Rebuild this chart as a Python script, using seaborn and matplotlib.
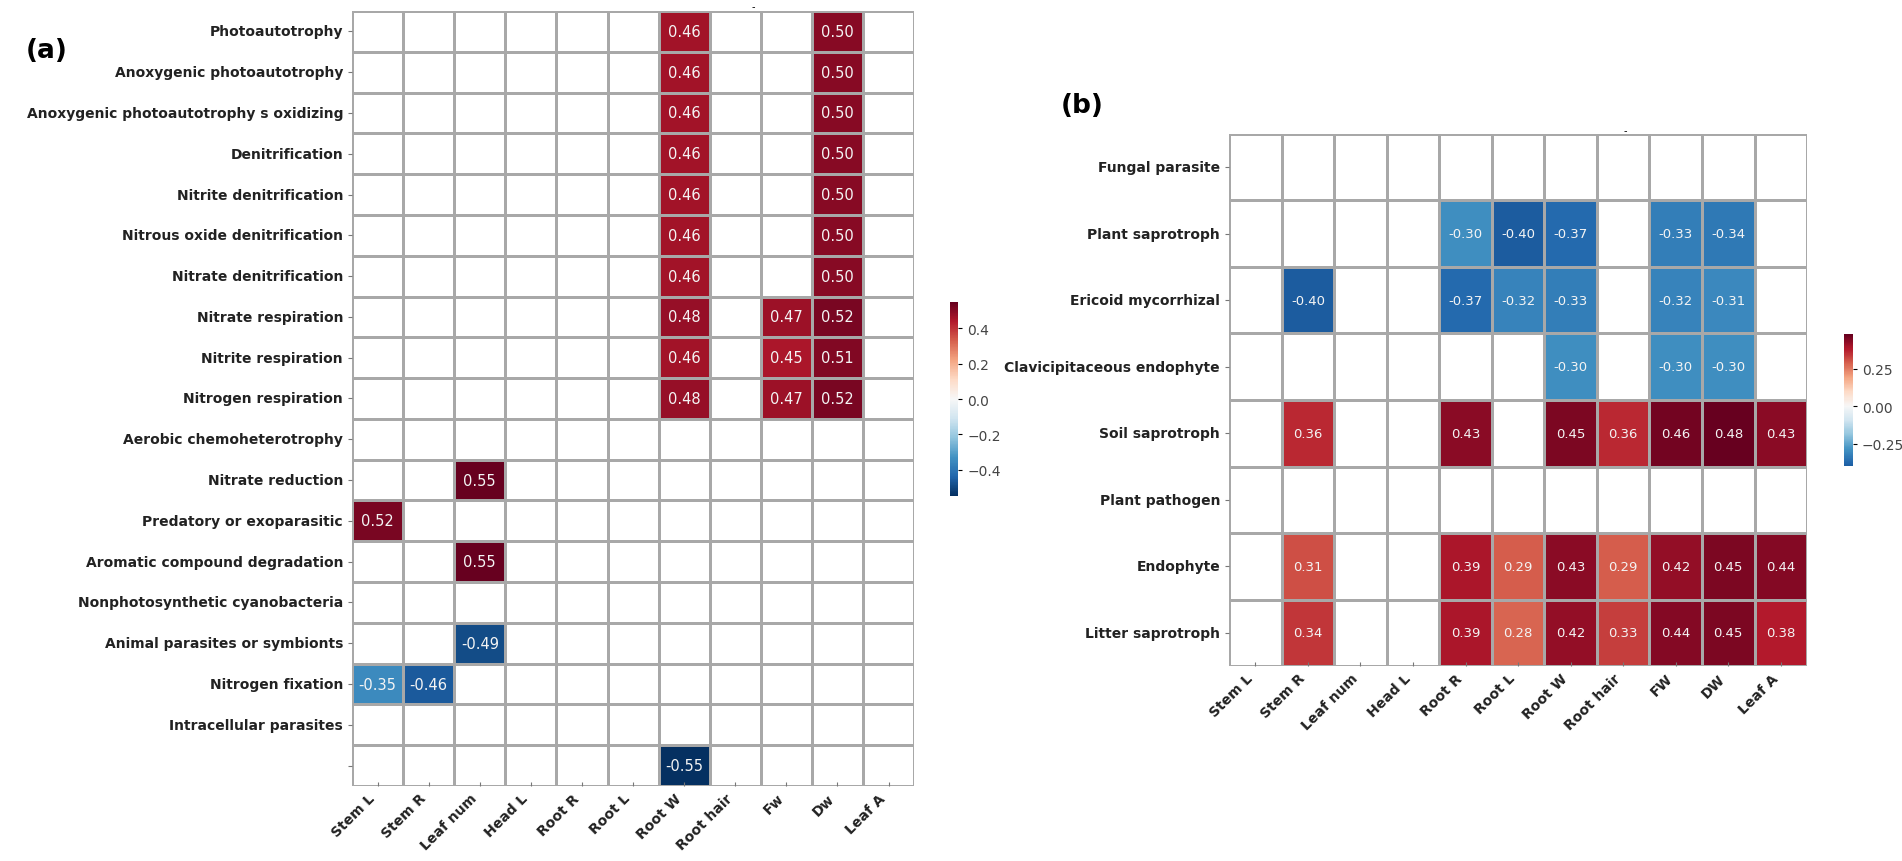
import numpy as np
import pandas as pd
import matplotlib
matplotlib.use('Agg')
import matplotlib.pyplot as plt
import seaborn as sns

nan = np.nan

# panel (a): FAPROTAX functions vs plant traits
traits_a = ['Stem L', 'Stem R', 'Leaf num', 'Head L', 'Root R', 'Root L',
            'Root W', 'Root hair', 'Fw', 'Dw', 'Leaf A']
functions_a = ['Photoautotrophy', 'Anoxygenic photoautotrophy',
               'Anoxygenic photoautotrophy s oxidizing', 'Denitrification',
               'Nitrite denitrification', 'Nitrous oxide denitrification',
               'Nitrate denitrification', 'Nitrate respiration',
               'Nitrite respiration', 'Nitrogen respiration',
               'Aerobic chemoheterotrophy', 'Nitrate reduction',
               'Predatory or exoparasitic', 'Aromatic compound degradation',
               'Nonphotosynthetic cyanobacteria', 'Animal parasites or symbionts',
               'Nitrogen fixation', 'Intracellular parasites', '']
corr_a = [
    [nan, nan, nan, nan, nan, nan, 0.46, nan, nan, 0.50, nan],
    [nan, nan, nan, nan, nan, nan, 0.46, nan, nan, 0.50, nan],
    [nan, nan, nan, nan, nan, nan, 0.46, nan, nan, 0.50, nan],
    [nan, nan, nan, nan, nan, nan, 0.46, nan, nan, 0.50, nan],
    [nan, nan, nan, nan, nan, nan, 0.46, nan, nan, 0.50, nan],
    [nan, nan, nan, nan, nan, nan, 0.46, nan, nan, 0.50, nan],
    [nan, nan, nan, nan, nan, nan, 0.46, nan, nan, 0.50, nan],
    [nan, nan, nan, nan, nan, nan, 0.48, nan, 0.47, 0.52, nan],
    [nan, nan, nan, nan, nan, nan, 0.46, nan, 0.45, 0.51, nan],
    [nan, nan, nan, nan, nan, nan, 0.48, nan, 0.47, 0.52, nan],
    [nan, nan, nan, nan, nan, nan, nan, nan, nan, nan, nan],
    [nan, nan, 0.55, nan, nan, nan, nan, nan, nan, nan, nan],
    [0.52, nan, nan, nan, nan, nan, nan, nan, nan, nan, nan],
    [nan, nan, 0.55, nan, nan, nan, nan, nan, nan, nan, nan],
    [nan, nan, nan, nan, nan, nan, nan, nan, nan, nan, nan],
    [nan, nan, -0.49, nan, nan, nan, nan, nan, nan, nan, nan],
    [-0.35, -0.46, nan, nan, nan, nan, nan, nan, nan, nan, nan],
    [nan, nan, nan, nan, nan, nan, nan, nan, nan, nan, nan],
    [nan, nan, nan, nan, nan, nan, -0.55, nan, nan, nan, nan],
]

# panel (b): FUNGuild guilds vs plant traits
traits_b = ['Stem L', 'Stem R', 'Leaf num', 'Head L', 'Root R', 'Root L',
            'Root W', 'Root hair', 'FW', 'DW', 'Leaf A']
guilds_b = ['Fungal parasite', 'Plant saprotroph', 'Ericoid mycorrhizal',
            'Clavicipitaceous endophyte', 'Soil saprotroph', 'Plant pathogen',
            'Endophyte', 'Litter saprotroph']
corr_b = [
    [nan, nan, nan, nan, nan, nan, nan, nan, nan, nan, nan],
    [nan, nan, nan, nan, -0.30, -0.40, -0.37, nan, -0.33, -0.34, nan],
    [nan, -0.40, nan, nan, -0.37, -0.32, -0.33, nan, -0.32, -0.31, nan],
    [nan, nan, nan, nan, nan, nan, -0.30, nan, -0.30, -0.30, nan],
    [nan, 0.36, nan, nan, 0.43, nan, 0.45, 0.36, 0.46, 0.48, 0.43],
    [nan, nan, nan, nan, nan, nan, nan, nan, nan, nan, nan],
    [nan, 0.31, nan, nan, 0.39, 0.29, 0.43, 0.29, 0.42, 0.45, 0.44],
    [nan, 0.34, nan, nan, 0.39, 0.28, 0.42, 0.33, 0.44, 0.45, 0.38],
]

df_a = pd.DataFrame(corr_a, index=functions_a, columns=traits_a)
df_b = pd.DataFrame(corr_b, index=guilds_b, columns=traits_b)

fig = plt.figure(figsize=(19.02, 8.62), dpi=100)
ax_a = fig.add_axes([0.1851, 0.0870, 0.2955, 0.8991])
cax_a = fig.add_axes([0.4995, 0.4234, 0.0042, 0.2251])
ax_b = fig.add_axes([0.6462, 0.2262, 0.3039, 0.6172])
cax_b = fig.add_axes([0.9695, 0.4582, 0.0047, 0.1531])


def draw(df, ax, cax, ticks, annot_size):
    sns.heatmap(df, ax=ax, cbar_ax=cax, cmap='RdBu_r', center=0,
                annot=True, fmt='.2f', linewidths=0.8, linecolor='#a8a8a8',
                annot_kws={'color': '#f4f4f4', 'size': annot_size},
                cbar_kws={'ticks': ticks})
    ax.set_xlabel('')
    ax.set_ylabel('')
    plt.setp(ax.get_yticklabels(), rotation=0, fontsize=10, fontweight='bold', color='#222222')
    plt.setp(ax.get_xticklabels(), rotation=45, ha='right', fontsize=10,
             fontweight='bold', color='#222222')
    ax.tick_params(axis='y', length=3, color='#777777')
    ax.tick_params(axis='x', length=3, direction='in', color='#777777')
    cax.tick_params(labelsize=10, labelcolor='#444444', length=3)


draw(df_a, ax_a, cax_a, [-0.4, -0.2, 0.0, 0.2, 0.4], 10.5)
draw(df_b, ax_b, cax_b, [-0.25, 0.0, 0.25], 9.5)

fig.text(47 / 1902, 1 - 51 / 862, '(a)', fontsize=19, fontweight='bold',
         ha='center', va='center')
fig.text(1082 / 1902, 1 - 106 / 862, '(b)', fontsize=19, fontweight='bold',
         ha='center', va='center')
fig.text(753 / 1902, 1 - 7 / 862, '-', fontsize=7, ha='center', va='center')
fig.text(1625 / 1902, 1 - 131 / 862, '-', fontsize=7, ha='center', va='center')

fig.savefig('out.png', dpi=100)
